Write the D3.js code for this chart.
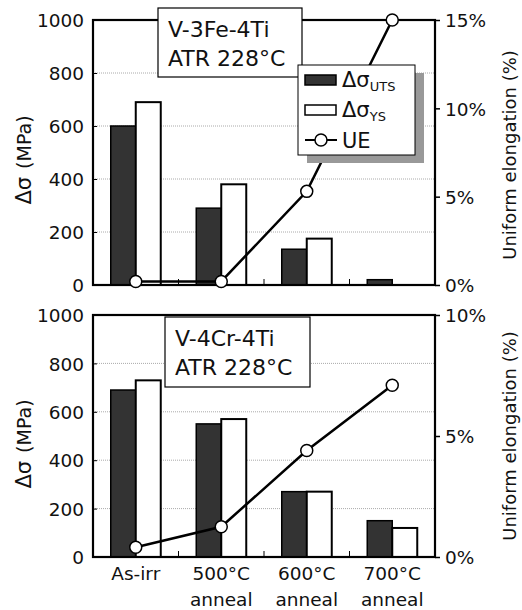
<!DOCTYPE html>
<html>
<head>
<meta charset="utf-8">
<script src="https://cdn.jsdelivr.net/npm/d3@7"></script>
<style>
  body { margin: 0; background: #fff; }
  text { font-family: "DejaVu Sans", "Liberation Sans", Arial, sans-serif; fill: #111; }
</style>
</head>
<body>
<div id="chart"></div>
<script>
// categories (x axis, two lines each)
var categories = [["As-irr"], ["500°C", "anneal"], ["600°C", "anneal"], ["700°C", "anneal"]];

// V-3Fe-4Ti panel
var utsFe = [600, 290, 135, 20];
var ysFe  = [690, 380, 175, 0];
var ueFe  = [0.2, 0.2, 5.3, 15];

// V-4Cr-4Ti panel
var utsCr = [690, 550, 270, 150];
var ysCr  = [730, 570, 270, 120];
var ueCr  = [0.4, 1.25, 4.4, 7.1];

var stressTicks = [0, 200, 400, 600, 800, 1000];
var ueTicksFe = [0, 5, 10, 15];
var ueTicksCr = [0, 5, 10];

var W = 522, H = 610;
var svg = d3.select('#chart').append('svg')
   .attr('width', W).attr('height', H);

var xLeft = 93, xRight = 435;

var x = d3.scaleBand().domain(d3.range(categories.length)).range([xLeft, xRight]);
var xSub = d3.scaleBand().domain(['uts', 'ys']).range([0, x.bandwidth()]).paddingOuter(0.71);

function drawPanel(p){
   var y = d3.scaleLinear().domain([0, 1000]).range([p.bottom, p.top]);
   var yr = d3.scaleLinear().domain([0, p.ueMax]).range([p.bottom, p.top]);
   var g = svg.append('g');

   // dotted grid
   g.selectAll('.grid').data(stressTicks.slice(1, -1)).enter()
      .append('line')
      .attr('x1', xLeft).attr('x2', xRight)
      .attr('y1', function(d){ return y(d); })
      .attr('y2', function(d){ return y(d); })
      .attr('stroke', '#aaa').attr('stroke-width', 1)
      .attr('stroke-dasharray', '1,1');

   // bars
   var rows = p.uts.map(function(v, i){ return {i: i, uts: v, ys: p.ys[i]}; });
   var grp = g.selectAll('.grp').data(rows).enter().append('g')
      .attr('transform', function(d){ return 'translate(' + x(d.i) + ',0)'; });
   grp.filter(function(d){ return d.uts > 0; }).append('rect')
      .attr('x', xSub('uts')).attr('width', xSub.bandwidth())
      .attr('y', function(d){ return y(d.uts); })
      .attr('height', function(d){ return y(0) - y(d.uts); })
      .attr('fill', '#333').attr('stroke', '#000').attr('stroke-width', 1.5);
   grp.filter(function(d){ return d.ys > 0; }).append('rect')
      .attr('x', xSub('ys')).attr('width', xSub.bandwidth())
      .attr('y', function(d){ return y(d.ys); })
      .attr('height', function(d){ return y(0) - y(d.ys); })
      .attr('fill', '#fff').attr('stroke', '#000').attr('stroke-width', 2);

   // frame
   g.append('rect')
      .attr('x', xLeft).attr('y', p.top)
      .attr('width', xRight - xLeft).attr('height', p.bottom - p.top)
      .attr('fill', 'none').attr('stroke', '#000').attr('stroke-width', 2.2);

   // left axis (inward ticks)
   var la = g.append('g').attr('transform', 'translate(' + xLeft + ',0)')
      .call(d3.axisLeft(y).tickValues(stressTicks).tickSize(-4).tickPadding(9).tickFormat(d3.format('d')));
   la.select('.domain').remove();
   la.selectAll('line').attr('stroke', '#000');
   la.selectAll('text').style('font-size', '18.5px').attr('fill', '#111').attr('dy', '0.36em');

   // right axis (outward ticks)
   var ra = g.append('g').attr('transform', 'translate(' + xRight + ',0)')
      .call(d3.axisRight(yr).tickValues(p.ueTicks).tickSize(5).tickPadding(5)
         .tickFormat(function(d){ return d + '%'; }));
   ra.select('.domain').remove();
   ra.selectAll('line').attr('stroke', '#000').attr('stroke-width', 1.5);
   ra.selectAll('text').style('font-size', '18.5px').attr('fill', '#111').attr('dy', '0.36em');

   // minor x ticks between groups
   g.selectAll('.xt').data(d3.range(1, categories.length)).enter()
      .append('line')
      .attr('x1', function(d){ return x(d); }).attr('x2', function(d){ return x(d); })
      .attr('y1', p.bottom).attr('y2', p.bottom - 6)
      .attr('stroke', '#000').attr('stroke-width', 1);

   // UE line
   var cx = function(d, i){ return x(i) + x.bandwidth() / 2; };
   g.append('path').datum(p.ue)
      .attr('d', d3.line().x(cx).y(function(d){ return yr(d); }))
      .attr('fill', 'none').attr('stroke', '#000').attr('stroke-width', 2.5);
   g.selectAll('.ue').data(p.ue).enter().append('circle')
      .attr('cx', cx).attr('cy', function(d){ return yr(d); }).attr('r', 6)
      .attr('fill', '#fff').attr('stroke', '#000').attr('stroke-width', 1.5);

   // label box
   g.append('rect')
      .attr('x', p.box[0]).attr('y', p.box[1])
      .attr('width', p.box[2]).attr('height', p.box[3])
      .attr('fill', '#fff').attr('stroke', '#000').attr('stroke-width', 1.2);
   p.boxText.forEach(function(t, k){
      g.append('text').attr('x', p.box[0] + 10).attr('y', p.box[1] + 29 + 29 * k)
         .style('font-size', '22px').text(t);
   });

   // y titles
   var lt = g.append('text')
      .attr('transform', 'translate(31,' + p.ltY + ') rotate(-90)')
      .attr('text-anchor', 'middle');
   lt.append('tspan').style('font-size', '21px').text('Δσ');
   lt.append('tspan').style('font-size', '19px').attr('dx', 8).text('(MPa)');

   g.append('text')
      .attr('transform', 'translate(516,' + p.rtY + ') rotate(-90)')
      .attr('text-anchor', 'middle')
      .style('font-size', '18px')
      .text('Uniform elongation (%)');
}

drawPanel({top: 20, bottom: 285, ueMax: 15, ueTicks: ueTicksFe,
   uts: utsFe, ys: ysFe, ue: ueFe,
   box: [158, 8, 144, 69], boxText: ['V-3Fe-4Ti', 'ATR 228°C'],
   ltY: 160, rtY: 155});

drawPanel({top: 315, bottom: 557, ueMax: 10, ueTicks: ueTicksCr,
   uts: utsCr, ys: ysCr, ue: ueCr,
   box: [165, 317, 145, 70], boxText: ['V-4Cr-4Ti', 'ATR 228°C'],
   ltY: 444, rtY: 436});

// legend (top panel)
var lg = svg.append('g');
lg.append('rect').attr('x', 307).attr('y', 73).attr('width', 117).attr('height', 90)
   .attr('fill', '#999');
lg.append('rect').attr('x', 298).attr('y', 65).attr('width', 117).attr('height', 90)
   .attr('fill', '#fff').attr('stroke', '#000').attr('stroke-width', 1);
var legendItems = [{k: 'uts', sub: 'UTS'}, {k: 'ys', sub: 'YS'}, {k: 'ue', sub: ''}];
legendItems.forEach(function(it, i){
   var cy = 80 + 30 * i;
   if (it.k === 'ue'){
      lg.append('line').attr('x1', 305).attr('x2', 337).attr('y1', cy).attr('y2', cy)
         .attr('stroke', '#000').attr('stroke-width', 2);
      lg.append('circle').attr('cx', 321).attr('cy', cy).attr('r', 6)
         .attr('fill', '#fff').attr('stroke', '#000').attr('stroke-width', 1.5);
      lg.append('text').attr('x', 342).attr('y', cy + 8).style('font-size', '21px').text('UE');
   } else {
      lg.append('rect').attr('x', 305).attr('y', cy - 5).attr('width', 31).attr('height', 10)
         .attr('fill', it.k === 'uts' ? '#333' : '#fff')
         .attr('stroke', '#000').attr('stroke-width', 1.5);
      var t = lg.append('text').attr('x', 342).attr('y', cy + 7).style('font-size', '21px');
      t.append('tspan').text('Δσ');
      t.append('tspan').attr('dy', 4).style('font-size', '13px').text(it.sub);
   }
});

// x labels (bottom panel only)
categories.forEach(function(lines, i){
   lines.forEach(function(s, k){
      svg.append('text')
         .attr('x', x(i) + x.bandwidth() / 2)
         .attr('y', 580 + 26 * k)
         .attr('text-anchor', 'middle')
         .style('font-size', '18.5px')
         .text(s);
   });
});
</script>
</body>
</html>
